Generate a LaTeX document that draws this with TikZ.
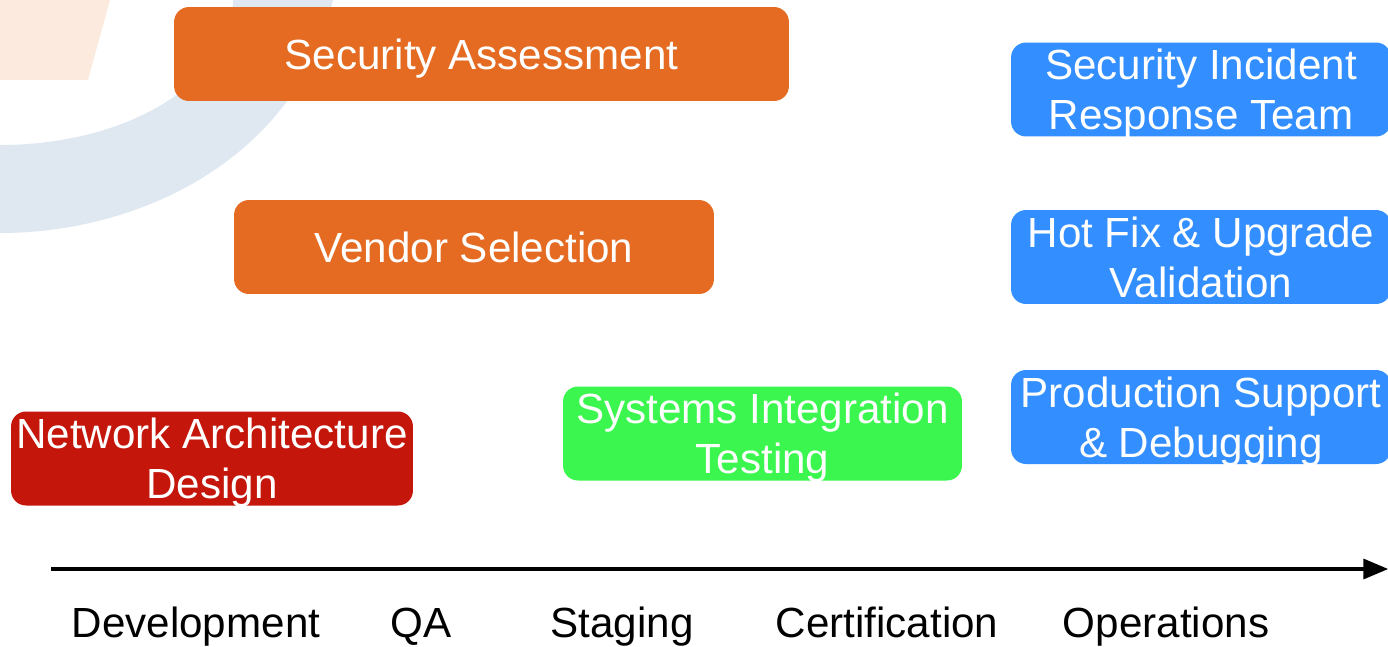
\documentclass[tikz,border=0pt]{standalone}
\usepackage{fontspec}
\setmainfont{Liberation Sans}
\usepackage{xcolor}
\usepackage{tikz}
\usetikzlibrary{arrows}
\usetikzlibrary{positioning}
\usetikzlibrary{calc}

\definecolor{phaseorange}{HTML}{E46B21}
\definecolor{phaseblue}{HTML}{338FFF}
\definecolor{phasegreen}{HTML}{3AF64E}
\definecolor{phasered}{HTML}{C4160B}
\definecolor{markblue}{HTML}{DFE8F1}
\definecolor{markorange}{HTML}{FCEADF}

\tikzset{
	phase/.style={rounded corners=0.3cm, inner sep=0pt, align=center, text=white,
		font=\fontsize{24}{28.5}\selectfont, text depth=0pt, minimum height=1.88cm},
	stage/.style={anchor=base, font=\fontsize{24}{28.5}\selectfont}
}

\begin{document}
\begin{tikzpicture}[x=0.02cm, y=-0.02cm, >=triangle 45]
			\useasboundingbox (0,0) rectangle (1388,646);
			
			%watermark
			\fill[markorange] (0,0) -- (110,0) -- (88,80) -- (0,80) -- cycle;
			\fill[markblue] (333,0) .. controls (300,150) and (150,233) .. (0,233)
				-- (0,145) .. controls (130,145) and (233,80) .. (233,0) -- cycle;
			
			%coordinates
			\coordinate (SAc)   at (481.5,54);
			\coordinate (VSc)   at (474,247);
			\coordinate (NADc)  at (212,458.5);
			\coordinate (SITc)  at (762.5,433.5);
			\coordinate (SIRTc) at (1201,89.5);
			\coordinate (HFVc)  at (1201,257);
			\coordinate (PSDc)  at (1201,417);
			\coordinate (axL)   at (51,569);
			\coordinate (axR)   at (1388,569);
			
			%nodes
			\node[phase, fill=phaseorange, minimum width=12.3cm] (SA) at (SAc) {Security Assessment};
			\node[phase, fill=phaseorange, minimum width=9.6cm] (VS) at (VSc) {Vendor Selection};
			\node[phase, fill=phasered, minimum width=8.04cm] (NAD) at (NADc) {Network Architecture\\Design};
			\node[phase, fill=phasegreen, minimum width=7.98cm] (SIT) at (SITc) {Systems Integration\\Testing};
			\node[phase, fill=phaseblue, minimum width=7.6cm] (SIRT) at (SIRTc) {Security Incident\\Response Team};
			\node[phase, fill=phaseblue, minimum width=7.6cm] (HFV) at (HFVc) {Hot Fix \& Upgrade\\Validation};
			\node[phase, fill=phaseblue, minimum width=7.6cm] (PSD) at (PSDc) {Production Support\\\& Debugging};
			
			\draw[->, line width=2.3pt] (axL) -- (axR);
			
			\node[stage] (dev)  at (196,637) {Development};
			\node[stage] (qa)   at (421,637) {QA};
			\node[stage] (stg)  at (622,637) {Staging};
			\node[stage] (cert) at (887,637) {Certification};
			\node[stage] (ops)  at (1166,637) {Operations};
			\end{tikzpicture}
\end{document}
